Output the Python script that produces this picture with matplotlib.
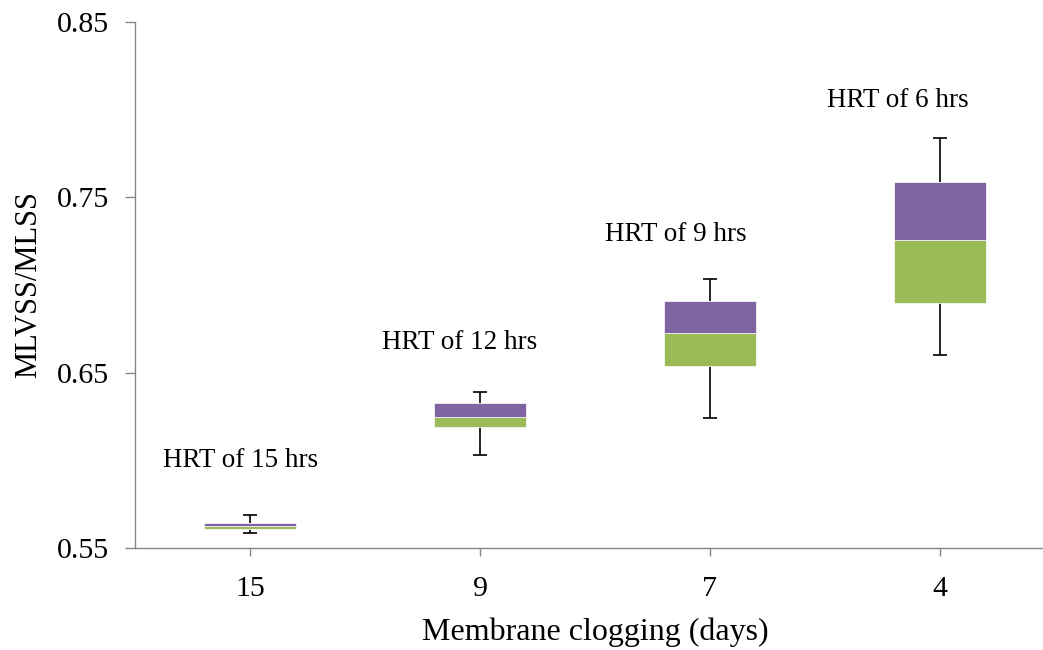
import matplotlib
matplotlib.use("Agg")
import matplotlib.pyplot as plt

categories = ["15", "9", "7", "4"]
labels = ["HRT of 15 hrs", "HRT of 12 hrs", "HRT of 9 hrs", "HRT of 6 hrs"]
whisker_min = [0.5586, 0.6032, 0.6243, 0.6601]
q1 = [0.5610, 0.6190, 0.6540, 0.6898]
median = [0.5625, 0.6247, 0.6725, 0.7257]
q3 = [0.5645, 0.6327, 0.6911, 0.7590]
whisker_max = [0.5688, 0.6390, 0.7033, 0.7837]
label_y = [0.600, 0.667, 0.729, 0.805]
label_dx = [-0.04, -0.09, -0.15, -0.185]

plt.rcParams["font.family"] = ["Liberation Serif", "DejaVu Serif"]

fig = plt.figure(figsize=(10.43, 6.5), dpi=100)
ax = fig.add_axes([135/1043, 1-548/650, 920/1043, (548-22)/650])

x = list(range(len(categories)))
green = "#9BBB59"
purple = "#8064A2"
bw = 0.4
cap = 0.06

low_h = [m - a for m, a in zip(median, q1)]
up_h = [b - m for b, m in zip(q3, median)]
ax.bar(x, low_h, bottom=q1, width=bw, color=green, edgecolor="white", linewidth=0.5, zorder=3)
ax.bar(x, up_h, bottom=median, width=bw, color=purple, edgecolor="white", linewidth=0.5, zorder=3)
ax.vlines(x, q3, whisker_max, color="black", linewidth=1.2, zorder=2)
ax.vlines(x, whisker_min, q1, color="black", linewidth=1.2, zorder=2)
ax.hlines(whisker_max, [i - cap/2 for i in x], [i + cap/2 for i in x], color="black", linewidth=1.2, zorder=2)
ax.hlines(whisker_min, [i - cap/2 for i in x], [i + cap/2 for i in x], color="black", linewidth=1.2, zorder=2)

for i, (t, yy, dx) in enumerate(zip(labels, label_y, label_dx)):
    ax.text(i + dx, yy, t, ha="center", va="center", fontsize=19.5)

ax.set_xlim(-0.5, 3.5)
ax.set_ylim(0.55, 0.85)
ax.set_yticks([0.55, 0.65, 0.75, 0.85])
ax.set_yticklabels(["0.55", "0.65", "0.75", "0.85"])
ax.set_xticks(x)
ax.set_xticklabels(categories)
ax.tick_params(axis="both", labelsize=21.5, direction="out", color="#868686", width=1)
ax.tick_params(axis="x", pad=14, length=6)
ax.tick_params(axis="y", pad=11, length=7.5)

for s in ["top", "right"]:
    ax.spines[s].set_visible(False)
for s in ["left", "bottom"]:
    ax.spines[s].set_color("#868686")
    ax.spines[s].set_linewidth(1)

ax.set_xlabel("Membrane clogging (days)", fontsize=23, labelpad=11)
ax.set_ylabel("MLVSS/MLSS", fontsize=22, labelpad=10)

fig.savefig("out.png", dpi=100)
